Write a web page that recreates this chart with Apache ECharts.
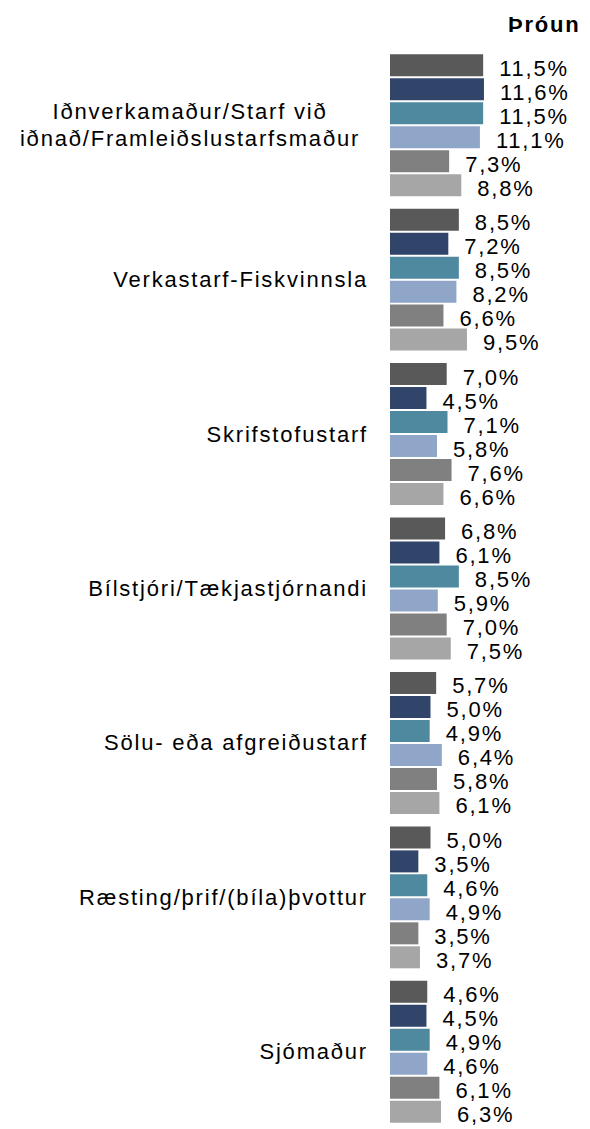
<!DOCTYPE html>
<html>
<head>
<meta charset="utf-8">
<script src="https://cdn.jsdelivr.net/npm/echarts@6/dist/echarts.min.js"></script>
<style>
  html, body { margin: 0; padding: 0; background: #fff; }
  #main { width: 590px; height: 1129px; }
  /* Excel-like spaced lettering */
  #main text { letter-spacing: 1.8px; }
</style>
</head>
<body>
<div id="main"></div>
<script>
  // flokkar
  const categories = [
    "Iðnverkamaður/Starf við\niðnað/Framleiðslustarfsmaður",
    "Verkastarf-Fiskvinnsla",
    "Skrifstofustarf",
    "Bílstjóri/Tækjastjórnandi",
    "Sölu- eða afgreiðustarf",
    "Ræsting/þrif/(bíla)þvottur",
    "Sjómaður"
  ];

  // gildi (%) fyrir hverja röð
  const serie1 = [11.5, 8.5, 7.0, 6.8, 5.7, 5.0, 4.6];
  const serie2 = [11.6, 7.2, 4.5, 6.1, 5.0, 3.5, 4.5];
  const serie3 = [11.5, 8.5, 7.1, 8.5, 4.9, 4.6, 4.9];
  const serie4 = [11.1, 8.2, 5.8, 5.9, 6.4, 4.9, 4.6];
  const serie5 = [7.3, 6.6, 7.6, 7.0, 5.8, 3.5, 6.1];
  const serie6 = [8.8, 9.5, 6.6, 7.5, 6.1, 3.7, 6.3];

  const seriesData = [serie1, serie2, serie3, serie4, serie5, serie6];
  const colors = ["#595959", "#31456a", "#4f89a0", "#8fa6c9", "#808080", "#a6a6a6"];
  const font = "Liberation Sans, Arial, sans-serif";

  var myChart = echarts.init(document.getElementById("main"), null, { renderer: "svg" });

  let series = seriesData.map(function(arr, i) {
    return {
      name: "Röð " + (i + 1),
      type: "bar",
      data: arr,
      barWidth: 22,
      barGap: "9%",
      itemStyle: { color: colors[i] },
      label: {
        show: true,
        position: "right",
        distance: 16,
        offset: [0, 3],
        color: "#000",
        fontFamily: font,
        fontSize: 22,
        formatter: function(p) {
          return p.value.toFixed(1).replace(".", ",") + "%";
        }
      },
      animation: false
    };
  });

  myChart.setOption({
    title: {
      text: "Þróun",
      left: 503,
      top: 8,
      textStyle: {
        fontFamily: font,
        fontSize: 22,
        fontWeight: "bold",
        color: "#000"
      }
    },
    grid: {
      left: 390,
      top: 48,
      width: 162,
      height: 1083
    },
    xAxis: {
      type: "value",
      min: 0,
      max: 20,
      show: false
    },
    yAxis: {
      type: "category",
      inverse: true,
      data: categories,
      axisLine: { show: false },
      axisTick: { show: false },
      axisLabel: {
        margin: 22,
        color: "#000",
        fontFamily: font,
        fontSize: 22,
        formatter: function(v) {
          if (v.indexOf("\n") > -1) {
            return v.split("\n").map(function(s) { return "{c|" + s + "}"; }).join("\n");
          }
          return v;
        },
        rich: {
          c: {
            width: 356,
            align: "center",
            fontFamily: font,
            fontSize: 22,
            lineHeight: 27,
            color: "#000"
          }
        }
      }
    },
    series: series
  });
</script>
</body>
</html>
